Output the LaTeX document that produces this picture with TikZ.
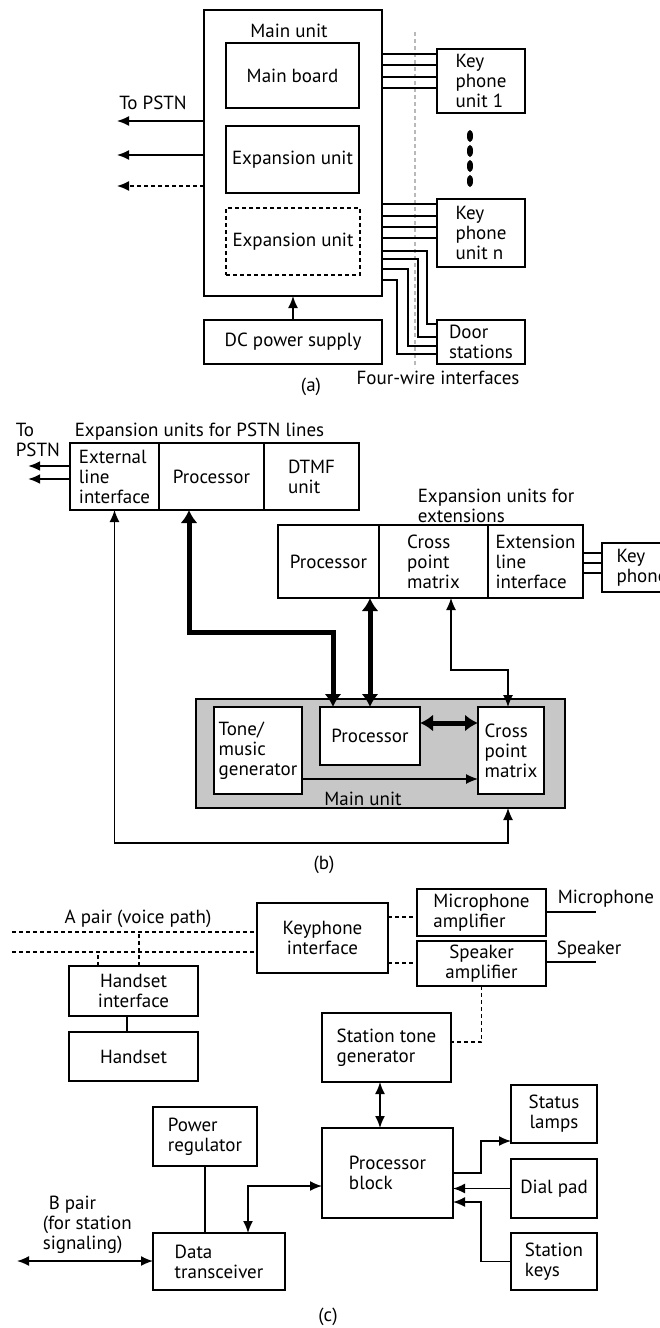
\documentclass[tikz,border=0pt]{standalone}
\usepackage{fontspec}
\setmainfont{PT Sans}
\usetikzlibrary{arrows.meta, positioning}

\begin{document}
\begin{tikzpicture}[x=1pt, y=-1pt, line width=1.6pt, >={Latex[length=12pt,width=10pt]},
    every node/.style={font=\fontsize{19}{20}\selectfont}]
    \tikzstyle{blk} = [rectangle, draw, inner sep=2pt, outer sep=0pt, align=left]
    \tikzstyle{lbl} = [inner sep=0pt, align=left]
    \tikzstyle{dsh} = [dash pattern=on 4pt off 3pt]
    \tikzstyle{thin} = [line width=1.2pt]
    \tikzstyle{fat} = [line width=5pt, {Latex[length=13pt,width=17pt]}-{Latex[length=13pt,width=17pt]}]
    \useasboundingbox (0,0) rectangle (660,1328);

    % (a)
    \node [blk, minimum width=178pt, minimum height=286pt] (mainA) at (293,153) {};
    \node [lbl] (mainAl) at (289,31) {Main unit};
    \node [blk, minimum width=133pt, minimum height=65pt] (board) at (292.5,75.5) {Main board};
    \node [blk, minimum width=133pt, minimum height=67pt] (expA) at (292.5,159.5) {Expansion unit};
    \node [blk, dsh, minimum width=134pt, minimum height=67pt] (expB) at (293,241.5) {Expansion unit};
    \node [blk, minimum width=178pt, minimum height=44pt, below=24pt of mainA] (dcps) {DC power supply};
    \node [blk, minimum width=88pt, minimum height=64pt] (kp1) at (481,81) {Key\\phone\\unit 1};
    \node [blk, minimum width=88pt, minimum height=68pt] (kpn) at (481,233) {Key\\phone\\unit n};
    \node [blk, minimum width=88pt, minimum height=44pt] (door) at (481,342) {Door\\stations};

    \draw [gray!55, dsh, line width=1.2pt] (415,32) -- (415,368);
    \coordinate (pstn1) at (117,121);
    \coordinate (pstn2) at (117,155);
    \coordinate (pstn3) at (117,186);
    \node [lbl] (pstnA) at (153,103) {To PSTN};
    \draw [->] (mainA.west |- pstn1) -- (pstn1);
    \draw [->] (mainA.west |- pstn2) -- (pstn2);
    \draw [->, dsh] (mainA.west |- pstn3) -- (pstn3);
    \foreach \y in {54,65,77,88} \draw (mainA.east |- 0,\y) -- (kp1.west |- 0,\y);
    \foreach \y in {204,216,227,238} \draw (mainA.east |- 0,\y) -- (kpn.west |- 0,\y);
    \foreach \y/\x/\z in {251/427/324, 259/418/337, 269/408/346, 280/397/354}
        \draw (mainA.east |- 0,\y) -| (\x,\z) -- (door.west |- 0,\z);
    \foreach \y in {136,151,166,181} \fill (470,\y) ellipse (3 and 6);
    \draw [->] (dcps) -- (mainA);
    \node [lbl] (fourw) at (438,378) {Four-wire interfaces};
    \node [lbl] (capa) at (311,387) {(a)};

    % (b)
    \node [lbl, anchor=west] (pstnB) at (15,440) {To\\PSTN};
    \node [lbl, anchor=west] (expl) at (74,432) {Expansion units for PSTN lines};
    \node [blk, minimum width=89pt, minimum height=67pt] (eli) at (114.5,476.5) {External\\line\\interface};
    \node [blk, minimum width=105pt, minimum height=67pt, right=0pt of eli] (procP) {Processor};
    \node [blk, minimum width=95pt, minimum height=67pt, right=0pt of procP] (dtmf) {DTMF\\unit};
    \coordinate (pstn4) at (28,466);
    \coordinate (pstn5) at (28,479);
    \draw [->, line width=2.5pt] (eli.west |- pstn4) -- (pstn4);
    \draw [->, line width=2.5pt] (eli.west |- pstn5) -- (pstn5);

    \node [lbl, anchor=west] (extl) at (417,505.5) {Expansion units for\\extensions};
    \node [blk, minimum width=101pt, minimum height=73pt] (procE) at (328.5,561.5) {Processor};
    \node [blk, minimum width=109pt, minimum height=73pt, right=0pt of procE] (cpmE) {Cross\\point\\matrix};
    \node [blk, minimum width=95pt, minimum height=73pt, right=0pt of cpmE] (eliE) {Extension\\line\\interface};
    \node [blk, minimum width=80pt, minimum height=49pt, anchor=west] (kpE) at (602,567.5) {Key\\phone};
    \foreach \y in {553,563,573} \draw [line width=2.5pt] (eliE.east |- 0,\y) -- (kpE.west |- 0,\y);

    \node [blk, fill=black!22, minimum width=369pt, minimum height=109pt] (mainB) at (380.5,753.5) {};
    \node [lbl] (mainBl) at (363,799) {Main unit};
    \node [blk, fill=white, minimum width=88pt, minimum height=87pt] (tone) at (258,750.5) {Tone/\\music\\generator};
    \node [blk, fill=white, minimum width=100pt, minimum height=58pt] (procM) at (370,736) {Processor};
    \node [blk, fill=white, minimum width=66pt, minimum height=87pt] (cpmM) at (511,750.5) {Cross\\point\\matrix};

    \draw [->, thin] (tone.east |- 0,779) -- (cpmM.west |- 0,779);
    \draw [fat] (procM.east |- 0,723) -- (cpmM.west |- 0,723);
    \draw [fat] (189,0 |- procP.south) |- (333,632) -- (333,0 |- procM.north);
    \draw [fat] (procM.north |- procE.south) -- (procM.north);
    \draw [<->, thin] (451,0 |- cpmE.south) |- (508,670) -- (508,0 |- cpmM.north);
    \draw [<->, thin] (eli.south) |- (508,843) -- (508,0 |- mainB.south);
    \node [lbl] (capb) at (324,865) {(b)};

    % (c)
    \node [lbl] (apl) at (138,919) {A pair (voice path)};
    \node [blk, minimum width=131pt, minimum height=70pt, align=center] (kpi) at (322.5,938) {Keyphone\\interface};
    \coordinate (ap1) at (12,932);
    \coordinate (ap2) at (12,952);
    \draw [dsh, thin] (ap1) -- (kpi.west |- ap1);
    \draw [dsh, thin] (ap2) -- (kpi.west |- ap2);
    \node [blk, minimum width=129pt, minimum height=50pt, align=center] (hsi) at (133.5,991) {Handset\\interface};
    \node [blk, minimum width=129pt, minimum height=49pt] (hs) at (133.5,1056.5) {Handset};
    \draw [dsh, thin] (98,0 |- hsi.north) -- (98,0 |- ap2);
    \draw [dsh, thin] (139,0 |- hsi.north) -- (139,0 |- ap1);
    \draw [thin] (127,0 |- hsi.south) -- (127,0 |- hs.north);

    \node [blk, minimum width=129pt, minimum height=47pt] (mic) at (481.5,912.5) {Microphone\\amplifier};
    \node [blk, minimum width=129pt, minimum height=45pt, align=center] (spk) at (481.5,963.5) {Speaker\\amplifier};
    \draw [dsh, thin] (kpi.east |- 0,917) -- (mic.west |- 0,917);
    \draw [dsh, thin] (kpi.east |- 0,963) -- (spk.west |- 0,963);
    \coordinate (micend) at (596,912);
    \coordinate (spkend) at (596,962);
    \draw [thin] (mic.east |- micend) -- (micend);
    \draw [thin] (spk.east |- spkend) -- (spkend);
    \node [lbl, anchor=west] (micl) at (557,899) {Microphone};
    \node [lbl, anchor=west] (spkl) at (556,950) {Speaker};

    \node [blk, minimum width=129pt, minimum height=69pt] (stg) at (386.5,1047.5) {Station tone\\generator};
    \draw [dsh, thin] (spk.south) |- ([yshift=5.5pt]stg.east);
    \node [blk, minimum width=131pt, minimum height=90pt] (pb) at (387.5,1173) {Processor\\block};
    \draw [<->] (380,0 |- stg.south) -- (380,0 |- pb.north);
    \node [blk, minimum width=86pt, minimum height=58pt, align=center] (sl) at (554,1114) {Status\\lamps};
    \node [blk, minimum width=86pt, minimum height=59pt] (dp) at (554,1188.5) {Dial pad};
    \node [blk, minimum width=86pt, minimum height=57pt] (sk) at (554,1261.5) {Station\\keys};
    \draw [->] (pb.east) -| (481,1141) -- ([yshift=2pt]sl.south west);
    \draw [->] (dp.west) -- (pb.east |- dp.west);
    \draw [->] (sk.west) -| (481,1202) -- (pb.east |- 0,1202);

    \node [blk, minimum width=104pt, minimum height=59pt] (pr) at (205,1136.5) {Power\\regulator};
    \node [blk, minimum width=132pt, minimum height=57pt] (dt) at (219,1261.5) {Data\\transceiver};
    \draw (pr.south) -- (pr.south |- dt.north);
    \draw [<->] (248,0 |- dt.north) |- (pb.west |- 0,1186);
    \coordinate (bp) at (17,1261);
    \draw [<->] (bp) -- (dt.west |- bp);
    \node [lbl, anchor=west] (bpl) at (42,1225) {\hspace{6pt}B pair\\(for station\\signaling)};
    \node [lbl] (capc) at (328,1317) {(c)};
\end{tikzpicture}
\end{document}
